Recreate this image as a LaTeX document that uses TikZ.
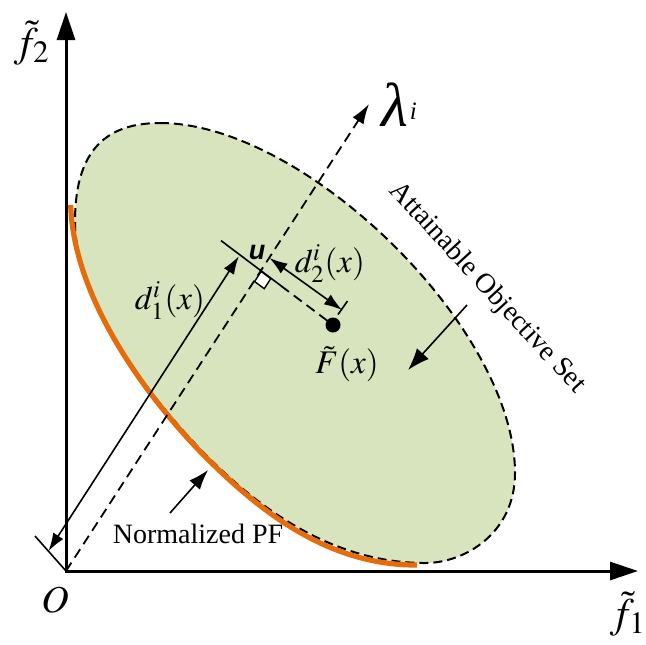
\documentclass[tikz,border=0pt]{standalone}
\usepackage{mathptmx}
\usepackage[no-math]{fontspec}
\setmainfont{Liberation Serif}
\newfontfamily\usans{Liberation Sans}
\usetikzlibrary{arrows.meta,calc}
\definecolor{aosgreen}{RGB}{215,228,189}
\definecolor{pforange}{RGB}{228,108,10}
\begin{document}
\begin{tikzpicture}[x=0.5pt,y=-0.5pt,
  region/.style={fill=aosgreen},
  boundary/.style={draw=black,line width=1pt,dash pattern=on 4.5pt off 2.5pt},
  pfcurve/.style={draw=pforange,line width=2.6pt},
  axisline/.style={line width=1.5pt,-{Triangle[length=14pt,width=9pt]}},
  guide/.style={line width=0.9pt,dash pattern=on 5pt off 3pt},
  tickline/.style={line width=0.8pt},
  dimarrow/.style={line width=0.8pt,{Latex[length=9pt,width=6pt]}-{Latex[length=9pt,width=6pt]}},
  callout/.style={line width=0.8pt,-{Latex[length=10pt,width=7pt]}},
  lbl/.style={inner sep=0pt,outer sep=0pt},
  mathlbl/.style={lbl,font=\fontsize{16.5}{18}\selectfont},
  txtlbl/.style={lbl,font=\fontsize{14}{16}\selectfont}
]
\useasboundingbox (0,0) rectangle (646,644);
% attainable set
\def\aospath{(160,123) .. controls (305,123) and (515,328) .. (515,473)
  .. controls (515,533) and (465,563) .. (425,563)
  .. controls (330,563) and (256.5,505.5) .. (207,456)
  .. controls (150.4,399.4) and (75,300) .. (75,222)
  .. controls (75,157) and (100,123) .. (160,123) -- cycle}
\fill[region] \aospath;
\draw[boundary] \aospath;
\draw[pfcurve] (417,565) .. controls (325,565.5) and (256,507) .. (206,457.5)
  .. controls (149,400) and (73.5,300) .. (70.7,205);
% coordinates
\coordinate (O) at (66,571);
\coordinate (xend) at (638,571);
\coordinate (yend) at (66,12);
\coordinate (lam) at (369,104);
\coordinate (P) at (261,270.7);
\coordinate (F) at (333,325);
\coordinate (T1) at (221,240.6);
\coordinate (T2) at (281,285.8);
\coordinate (B1) at (35,536);
\coordinate (D1a) at (48.5,551);
\coordinate (D1b) at (238.8,256.3);
\coordinate (D2a) at (269.5,258);
\coordinate (D2b) at (342,310);
\coordinate (K1) at (338,314.5);
\coordinate (K2) at (347.5,301);
\coordinate (S0) at ($(P)+(0.13,0.72)$);
\coordinate (S1) at ($(S0)+(-6.5,10.1)$);
\coordinate (S2) at ($(S1)+(9.6,7.2)$);
\coordinate (S3) at ($(S0)+(9.6,7.2)$);
\coordinate (N1) at (170,513);
\coordinate (N2) at (208,470);
\coordinate (A1) at (467,305);
\coordinate (A2) at (408,370);
% axes
\draw[axisline] ($(O)+(-0.75,0)$) -- (xend);
\draw[axisline] ($(O)+(0,0.75)$) -- (yend);
% lambda direction
\draw[guide,-{Latex[length=10pt,width=6.5pt]}] (O) -- (lam);
% perpendicular from F
\draw[tickline] (T1) -- (T2);
\draw[guide] (T2) -- (F);
\filldraw[fill=white,draw=black,line width=0.7pt] (S0) -- (S1) -- (S2) -- (S3) -- cycle;
% ticks and distances
\draw[tickline] (O) -- (B1);
\draw[dimarrow] (D1a) -- (D1b);
\draw[dimarrow] (D2a) -- (D2b);
\draw[tickline] (K1) -- (K2);
\fill (F) circle (7.5);
% callouts
\draw[callout] (N1) -- (N2);
\draw[callout,-{Latex[length=11pt,width=8pt]}] (A1) -- (A2);
% labels
\node[lbl,font=\fontsize{21}{23}\selectfont] (f2lbl) at (32,43) {$\tilde{f}_2$};
\node[lbl,font=\fontsize{21}{23}\selectfont] (f1lbl) at (628,614) {$\tilde{f}_1$};
\node[lbl,font=\fontsize{19}{21}\selectfont] (Olbl) at (55,600) {$O$};
\node[lbl] (lamlbl) at (399,105) {{\fontsize{31}{33}\selectfont\itshape λ}\hspace{1pt}\raisebox{3.5pt}{\fontsize{12.5}{14}\selectfont\itshape i}};
\node[lbl,font=\usans\bfseries\itshape\fontsize{13.5}{15}\selectfont] (ulbl) at (257,252) {u};
\node[mathlbl] (d1lbl) at (170,301) {$d_1^{i}(x)$};
\node[mathlbl] (d2lbl) at (330,264) {$d_2^{i}(x)$};
\node[mathlbl] (Flbl) at (347,364) {$\tilde{F}(x)$};
\node[txtlbl,rotate=-47.3] (aoslbl) at (487,288) {Attainable Objective Set};
\node[txtlbl] (pflbl) at (198,534) {Normalized PF};
\end{tikzpicture}
\end{document}
